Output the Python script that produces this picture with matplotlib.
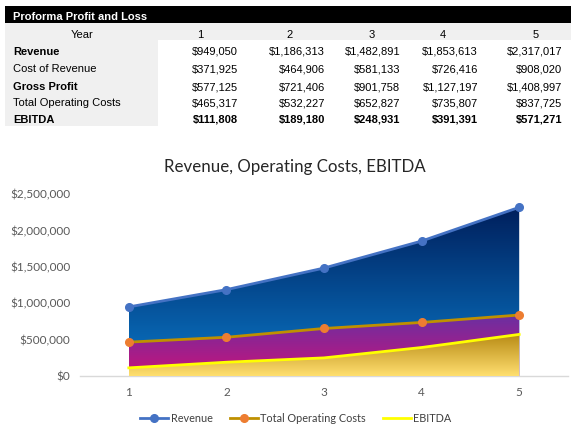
import matplotlib
matplotlib.use("Agg")
import matplotlib.pyplot as plt
import numpy as np
from matplotlib.patches import Rectangle
from matplotlib.colors import LinearSegmentedColormap
from matplotlib.lines import Line2D
from matplotlib.ticker import FuncFormatter

years = [1, 2, 3, 4, 5]
revenue = [949050, 1186313, 1482891, 1853613, 2317017]
cost_of_revenue = [371925, 464906, 581133, 726416, 908020]
gross_profit = [577125, 721406, 901758, 1127197, 1408997]
total_operating_costs = [465317, 532227, 652827, 735807, 837725]
ebitda = [111808, 189180, 248931, 391391, 571271]

table_title = "Proforma Profit and Loss"
row_labels = ["Revenue", "Cost of Revenue", "Gross Profit", "Total Operating Costs", "EBITDA"]
label_bold = [True, False, True, False, True]
value_bold = [False, False, False, False, True]
row_values = [revenue, cost_of_revenue, gross_profit, total_operating_costs, ebitda]

chart_title = "Revenue, Operating Costs, EBITDA"
y_ticks = [0, 500000, 1000000, 1500000, 2000000, 2500000]

W, H = 578, 437
fig = plt.figure(figsize=(W / 100, H / 100), dpi=100)
fig.patch.set_facecolor("white")

def fx(px):
    return px / W

def fy(py):
    return 1 - py / H

def rect(x0, y0, x1, y1, color):
    fig.patches.append(Rectangle((fx(x0), fy(y1)), fx(x1) - fx(x0), (y1 - y0) / H,
                                 transform=fig.transFigure, facecolor=color,
                                 edgecolor="none", zorder=0))

TFONT = ["Liberation Sans", "DejaVu Sans"]
CFONT = ["Lato", "DejaVu Sans"]
tsize = 8.0

# ---- Table ----
rect(5, 6, 571, 23, "black")
rect(5, 23, 571, 40, "#f0f0f0")
rect(5, 40, 158, 126, "#f0f0f0")
fig.text(fx(13), fy(17), table_title, color="white", fontweight="bold",
         fontsize=tsize, family=TFONT, va="center", ha="left")
fig.text(fx(82), fy(35), "Year", fontsize=tsize, family=TFONT, va="center", ha="center")
year_x = [200, 290, 372, 443, 536]
col_right = [238, 325, 400, 478, 562]
for i, yr in enumerate(years):
    fig.text(fx(year_x[i]), fy(35), str(yr), fontsize=tsize, family=TFONT,
             va="center", ha="center")
row_y = [52, 69, 87, 103, 120]
for r, (lab, lb, vb, vals) in enumerate(zip(row_labels, label_bold, value_bold, row_values)):
    fig.text(fx(13), fy(row_y[r]), lab, fontsize=tsize, family=TFONT,
             fontweight="bold" if lb else "normal", va="center", ha="left")
    for c, v in enumerate(vals):
        fig.text(fx(col_right[c]), fy(row_y[r]), f"${v:,.0f}", fontsize=tsize,
                 family=TFONT, fontweight="bold" if vb else "normal",
                 va="center", ha="right")

# ---- Chart ----
ax = fig.add_axes([fx(80), fy(376), fx(568) - fx(80), (376 - 194) / H])

def grad_fill(x, y, top_color, bottom_color, z):
    poly = ax.fill_between(x, 0, y, facecolor="none", edgecolor="none", zorder=z)
    cmap = LinearSegmentedColormap.from_list("g", [bottom_color, top_color])
    grad = np.linspace(0, 1, 256).reshape(-1, 1)
    im = ax.imshow(grad, cmap=cmap, origin="lower", aspect="auto",
                   extent=[min(x), max(x), 0, max(y)], zorder=z, interpolation="bilinear")
    path = poly.get_paths()[0]
    im.set_clip_path(path, transform=ax.transData)

grad_fill(years, revenue, "#001f5c", "#0a78c8", 1)
grad_fill(years, total_operating_costs, "#6a30a2", "#c8127a", 2)
grad_fill(years, ebitda, "#b88a14", "#ffdf70", 3)
ax.set_xlim(0.5, 5.5)
ax.set_ylim(0, 2500000)

LW, MS = 2.0, 5.5
ax.plot(years, revenue, color="#4472c4", lw=LW, marker="o", ms=MS,
        markerfacecolor="#4472c4", markeredgecolor="#4472c4", zorder=5)
ax.plot(years, total_operating_costs, color="#bf9000", lw=LW, marker="o", ms=MS,
        markerfacecolor="#ed7d31", markeredgecolor="#ed7d31", zorder=5)
ax.plot(years, ebitda, color="#ffff00", lw=LW, zorder=5)

for s in ["top", "right", "left"]:
    ax.spines[s].set_visible(False)
ax.spines["bottom"].set_color("#d9d9d9")
ax.spines["bottom"].set_linewidth(1)
ax.set_xticks(years)
ax.set_xticklabels([str(y) for y in years])
ax.set_yticks(y_ticks)
ax.yaxis.set_major_formatter(FuncFormatter(lambda v, p: f"${v:,.0f}"))
ax.tick_params(axis="both", length=0, colors="#595959", labelsize=8.5)
ax.tick_params(axis="y", pad=7)
ax.tick_params(axis="x", pad=8)
for lab in ax.get_xticklabels() + ax.get_yticklabels():
    lab.set_family(CFONT)

fig.text(fx(295), fy(167), chart_title, fontsize=12.2, family=CFONT,
         color="#262626", ha="center", va="center")

handles = [
    Line2D([], [], color="#4472c4", lw=LW, marker="o", ms=MS, markerfacecolor="#4472c4",
           markeredgecolor="#4472c4"),
    Line2D([], [], color="#bf9000", lw=LW, marker="o", ms=MS, markerfacecolor="#ed7d31",
           markeredgecolor="#ed7d31"),
    Line2D([], [], color="#ffff00", lw=LW),
]
leg = fig.legend(handles, ["Revenue", "Total Operating Costs", "EBITDA"],
                 loc="center", bbox_to_anchor=(fx(296), fy(418)), ncol=3, frameon=False,
                 prop={"family": CFONT, "size": 7.8}, handlelength=2.6,
                 handletextpad=0.2, columnspacing=1.6)
for t in leg.get_texts():
    t.set_color("#404040")

fig.savefig("out.png", dpi=100)
